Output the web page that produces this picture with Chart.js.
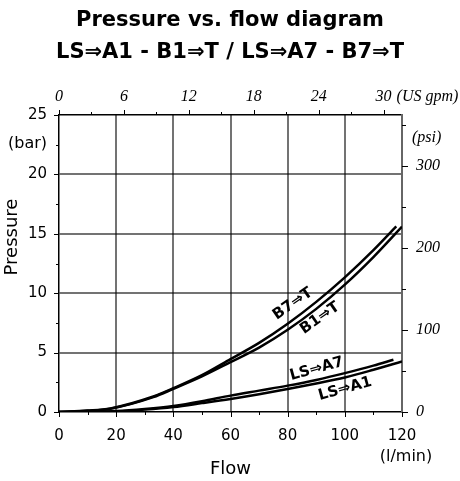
<!DOCTYPE html>
<html><head><meta charset="utf-8">
<script src="https://cdn.jsdelivr.net/npm/chart.js@4"></script>
<style>html,body{margin:0;padding:0;background:#fff}#w{width:460px;height:481px;position:relative}</style>
</head><body><div id="w"><canvas id="c"></canvas></div>
<script>
// ---- data (flow l/min, pressure bar) ----
const flowB7 = [0, 10, 18, 33, 40, 50, 60, 70, 80, 90, 100, 110, 118];
const presB7 = [0, 0.12, 0.3, 1.3, 2.0, 3.1, 4.45, 5.82, 7.43, 9.27, 11.33, 13.62, 15.62];
const flowB1 = [0, 10, 18, 33, 40, 50, 60, 70, 80, 90, 100, 110, 120];
const presB1 = [0, 0.1, 0.28, 1.25, 1.95, 3.0, 4.2, 5.42, 6.92, 8.68, 10.72, 13.04, 15.6];
const flowA7 = [0, 10, 20, 30, 40, 50, 60, 70, 80, 90, 100, 110, 117];
const presA7 = [0, 0.03, 0.08, 0.25, 0.5, 0.9, 1.38, 1.8, 2.22, 2.7, 3.27, 3.9, 4.4];
const flowA1 = [0, 10, 20, 30, 40, 50, 60, 70, 80, 90, 100, 110, 120];
const presA1 = [0, 0.02, 0.05, 0.2, 0.42, 0.75, 1.1, 1.5, 1.94, 2.4, 2.9, 3.55, 4.25];
const seriesNames = ['B7⇒T', 'B1⇒T', 'LS⇒A7', 'LS⇒A1'];
const titleLines = ['Pressure vs. flow diagram', 'LS⇒A1 - B1⇒T / LS⇒A7 - B7⇒T'];
const LPM_PER_GPM = 3.785411784;
const PSI_PER_BAR = 14.5037738;

const toPts = (xs, ys) => xs.map((v, i) => ({x: v, y: ys[i]}));
const GRID = 'rgba(0,0,0,0.55)';
const sans = '"DejaVu Sans", Verdana, sans-serif';
const serif = '"Liberation Serif", "Times New Roman", serif';

const labelSpots = [
  {name: seriesNames[0], x: 81.8, y: 9.1, a: -35},
  {name: seriesNames[1], x: 91.3, y: 7.9, a: -35},
  {name: seriesNames[2], x: 90.2, y: 3.62, a: -15.5},
  {name: seriesNames[3], x: 100.1, y: 1.94, a: -15.5}
];

const extras = {
  id: 'extras',
  afterDraw(chart) {
    const {ctx, scales} = chart;
    const {x, x2, y, y2} = scales;
    ctx.save();
    ctx.strokeStyle = '#000';
    ctx.lineWidth = 1;
    const seg = (a, b, c, d) => { ctx.beginPath(); ctx.moveTo(a, b); ctx.lineTo(c, d); ctx.stroke(); };
    for (let v = 0; v <= 120; v += 10) {
      const p = Math.round(x.getPixelForValue(v)) + 0.5;
      seg(p, y.bottom, p, y.bottom + (v % 20 === 0 ? 5 : 3));
    }
    for (let v = 0; v <= 30; v += 3) {
      const p = Math.round(x2.getPixelForValue(v)) + 0.5;
      seg(p, y.top, p, y.top - (v % 6 === 0 ? 5 : 3));
    }
    for (let v = 0; v <= 25; v += 2.5) {
      const p = Math.round(y.getPixelForValue(v)) + 0.5;
      seg(x.left, p, x.left - (v % 5 === 0 ? 5 : 3), p);
    }
    for (let v = 0; v <= 350; v += 50) {
      const p = Math.round(y2.getPixelForValue(v)) + 0.5;
      seg(x.right, p, x.right + (v % 100 === 0 ? 6 : 4), p);
    }
    ctx.fillStyle = '#000';
    ctx.font = '16px ' + sans;
    ctx.textAlign = 'right'; ctx.textBaseline = 'middle';
    ctx.fillText('(bar)', x.left - 12, y.getPixelForValue(22.6));
    ctx.textAlign = 'center';
    ctx.fillText('(l/min)', x.getPixelForValue(120) + 4, 457);
    ctx.font = 'italic 16px ' + serif;
    ctx.textAlign = 'left';
    ctx.fillText('(psi)', x.right + 10, y2.getPixelForValue(335));
    ctx.fillText('(US gpm)', x2.getPixelForValue(30) + 13, 97);
    ctx.save();
    ctx.font = '18px ' + sans;
    ctx.translate(12.5, 237);
    ctx.rotate(-Math.PI / 2);
    ctx.textAlign = 'center'; ctx.textBaseline = 'middle';
    ctx.fillText('Pressure', 0, 0);
    ctx.restore();
    ctx.font = 'bold 15px ' + sans;
    ctx.textAlign = 'center'; ctx.textBaseline = 'middle';
    for (const s of labelSpots) {
      ctx.save();
      ctx.translate(x.getPixelForValue(s.x), y.getPixelForValue(s.y));
      ctx.rotate(s.a * Math.PI / 180);
      ctx.fillText(s.name, 0, 0);
      ctx.restore();
    }
    ctx.restore();
  }
};

const ds = (name, xs, ys) => ({
  label: name, data: toPts(xs, ys), borderColor: '#000', borderWidth: 2.5,
  pointRadius: 0, fill: false, tension: 0.3, cubicInterpolationMode: 'monotone',
  xAxisID: 'x', yAxisID: 'y'
});

new Chart(document.getElementById('c'), {
  type: 'line',
  data: {
    datasets: [
      ds(seriesNames[0], flowB7, presB7),
      ds(seriesNames[1], flowB1, presB1),
      ds(seriesNames[2], flowA7, presA7),
      ds(seriesNames[3], flowA1, presA1)
    ]
  },
  options: {
    responsive: true, maintainAspectRatio: false, animation: false,
    layout: {padding: 0},
    plugins: {
      legend: {display: false}, tooltip: {enabled: false},
      title: {
        display: true, text: titleLines, color: '#000',
        font: {family: sans, size: 21, weight: 'bold', lineHeight: 1.48},
        padding: {top: 5.5, bottom: 0}
      }
    },
    scales: {
      x: {
        type: 'linear', position: 'bottom', min: 0, max: 120,
        ticks: {stepSize: 20, color: '#000', font: {family: sans, size: 15}, padding: 10},
        grid: {color: c => (c.tick && c.tick.value > 0 && c.tick.value < 120) ? GRID : 'rgba(0,0,0,0)',
               lineWidth: 2, tickLength: 5, tickColor: 'rgba(0,0,0,0)'},
        border: {display: true, color: '#000', width: 1.5},
        title: {display: true, text: 'Flow', color: '#000', font: {family: sans, size: 18}, padding: {top: 0, bottom: 1}},
        afterFit: s => { s.height = 69; }
      },
      x2: {
        type: 'linear', axis: 'x', position: 'top', min: 0, max: 120 / LPM_PER_GPM,
        ticks: {stepSize: 6, includeBounds: false, color: '#000', font: {family: serif, size: 16, style: 'italic'}, padding: 4},
        grid: {drawOnChartArea: false, tickLength: 5, tickColor: 'rgba(0,0,0,0)'},
        border: {display: true, color: '#000', width: 1.5},
        afterFit: s => { s.height = 115 - 5.5 - 2 * 21 * 1.48; }
      },
      y: {
        type: 'linear', position: 'left', min: 0, max: 25,
        ticks: {stepSize: 5, color: '#000', font: {family: sans, size: 15}, padding: 7},
        grid: {color: c => (c.tick && c.tick.value > 0 && c.tick.value < 25) ? GRID : 'rgba(0,0,0,0)',
               lineWidth: 2, tickLength: 5, tickColor: 'rgba(0,0,0,0)'},
        border: {display: true, color: '#000', width: 1.5},
        afterFit: s => { s.width = 59; }
      },
      y2: {
        type: 'linear', axis: 'y', position: 'right', min: 0, max: 25 * PSI_PER_BAR,
        ticks: {stepSize: 100, includeBounds: false, color: '#000', font: {family: serif, size: 16, style: 'italic'}, padding: 9},
        grid: {drawOnChartArea: false, tickLength: 5, tickColor: 'rgba(0,0,0,0)'},
        border: {display: true, color: '#666', width: 2},
        afterFit: s => { s.width = 58; }
      }
    }
  },
  plugins: [extras]
});
</script></body></html>
